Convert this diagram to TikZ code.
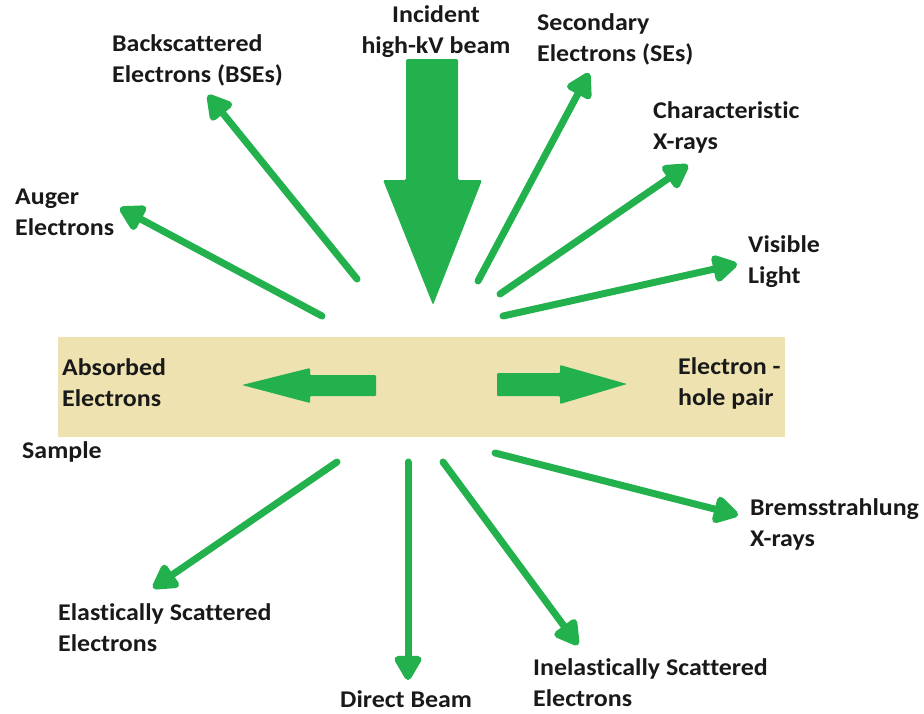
\documentclass[tikz,border=0pt]{standalone}
\usepackage{fontspec}
\setmainfont{Carlito}[Ligatures={NoCommon,TeX},FakeStretch=1.08]
\usetikzlibrary{arrows.meta}
\definecolor{pgreen}{RGB}{34,177,76}
\definecolor{sand}{RGB}{238,226,176}
\begin{document}
\begin{tikzpicture}[x=1pt,y=-1pt,
  lbl/.style={inner sep=0pt,align=left,anchor=west,font=\fontsize{24}{31}\selectfont\bfseries,text=black!90},
  ray/.style={draw=pgreen,line width=7pt,line cap=round,-{Triangle[length=28pt,width=30pt,round]}}]
\useasboundingbox (0,0) rectangle (924,713);
% sample band
\fill[sand] (58,337) rectangle (785,437);
% incident beam
\fill[pgreen,rounded corners=1.5pt] (406,59) -- (458,59) -- (458,180) -- (482,180) -- (433,305) -- (383,180) -- (406,180) -- cycle;
% absorbed / electron-hole arrows
\fill[pgreen,rounded corners=1pt] (376,375) -- (376,396) -- (310,396) -- (310,403) -- (242,385) -- (310,368) -- (310,375) -- cycle;
\fill[pgreen,rounded corners=1pt] (497,373) -- (560,373) -- (560,365) -- (627,384) -- (560,404) -- (560,396) -- (497,396) -- cycle;
% coordinates
\coordinate (bseS) at (357,279); \coordinate (bseE) at (208,95);
\coordinate (augS) at (322,316); \coordinate (augE) at (120,208);
\coordinate (seS) at (478,281); \coordinate (seE) at (589,73);
\coordinate (cxS) at (500,294); \coordinate (cxE) at (688,165);
\coordinate (vlS) at (503,316); \coordinate (vlE) at (737,264);
\coordinate (brS) at (495,453); \coordinate (brE) at (738,515);
\coordinate (elS) at (337,462); \coordinate (elE) at (153,588);
\coordinate (dbS) at (408,462); \coordinate (dbE) at (408,680);
\coordinate (inS) at (443,462); \coordinate (inE) at (578,645);
\draw[ray] (bseS) -- (bseE);
\draw[ray] (augS) -- (augE);
\draw[ray] (seS) -- (seE);
\draw[ray] (cxS) -- (cxE);
\draw[ray] (vlS) -- (vlE);
\draw[ray] (brS) -- (brE);
\draw[ray] (elS) -- (elE);
\draw[ray] (dbS) -- (dbE);
\draw[ray] (inS) -- (inE);
% labels
\node[lbl,align=center,anchor=center] (inc) at (436,32) {Incident\\high-kV beam};
\node[lbl] (bse) at (112,60) {Backscattered\\Electrons (BSEs)};
\node[lbl] (se) at (537,39) {Secondary\\Electrons (SEs)};
\node[lbl] (cx) at (653,127) {Characteristic\\X-rays};
\node[lbl] (aug) at (15,212) {Auger\\Electrons};
\node[lbl] (vl) at (748,262) {Visible\\Light};
\node[lbl] (abs) at (62,383) {Absorbed\\Electrons};
\node[lbl] (ehp) at (678,383) {Electron -\\hole pair};
\node[lbl] (smp) at (22,452) {Sample};
\node[lbl] (brm) at (750,524) {Bremsstrahlung\\X-rays};
\node[lbl] (el) at (58,628) {Elastically Scattered\\Electrons};
\node[lbl] (db) at (340,699) {Direct Beam};
\node[lbl] (inel) at (533,683) {Inelastically Scattered\\Electrons};
\end{tikzpicture}
\end{document}
